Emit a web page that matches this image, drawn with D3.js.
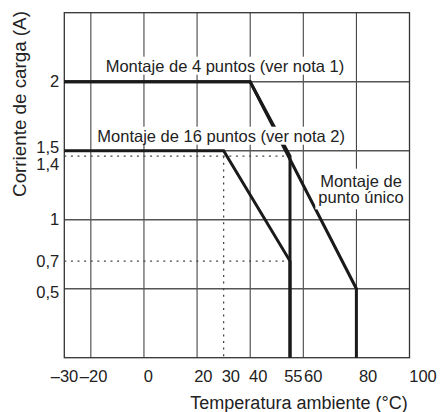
<!DOCTYPE html>
<html>
<head>
<meta charset="utf-8">
<script src="https://cdn.jsdelivr.net/npm/d3@7/dist/d3.min.js"></script>
<style>
  html, body { margin: 0; padding: 0; background: #fff; }
  svg { display: block; }
  text { font-family: "Liberation Sans", Arial, Helvetica, sans-serif; fill: #222; }
</style>
</head>
<body>
<svg id="chart" width="440" height="412"></svg>
<script>
// ---- data ----
const xDomain = [-30, 100];
const yDomain = [0, 2.5];
const xTickValues = [-30, -20, 0, 20, 30, 40, 55, 60, 80, 100];
const xGridValues = [-20, 0, 20, 40, 60, 80];
const yTickValues = [0.5, 0.7, 1, 1.4, 1.5, 2];
const yTickLabels = ["0,5", "0,7", "1", "1,4", "1,5", "2"];
const yGridValues = [0.5, 1, 1.5, 2];

// Montaje de 4 puntos (ver nota 1)
const fourPointTemp = [-30, 40, 55, 55];
const fourPointCurrent = [2, 2, 1.46, 0];
// Montaje de 16 puntos (ver nota 2)
const sixteenPointTemp = [-30, 30, 55, 55];
const sixteenPointCurrent = [1.5, 1.5, 0.7, 0];
// Montaje de punto único
const singlePointTemp = [-30, 40, 80, 80];
const singlePointCurrent = [2, 2, 0.5, 0];

const labelFour = "Montaje de 4 puntos (ver nota 1)";
const labelSixteen = "Montaje de 16 puntos (ver nota 2)";
const labelSingle = ["Montaje de", "punto único"];
const xTitle = "Temperatura ambiente (°C)";
const yTitle = "Corriente de carga (A)";

// ---- layout ----
const svg = d3.select("#chart");
const pLeft = 64.3, pRight = 409.5, pTop = 12.7, pBottom = 357.7;
const x = d3.scaleLinear().domain(xDomain).range([pLeft, pRight]);
const y = d3.scaleLinear().domain(yDomain).range([pBottom, pTop]);
// tick labels in the reference sit slightly right of their grid lines
const xLabel = d3.scaleLinear().domain(xDomain).range([65.6, 422.5]);

const FS = 16.5;

// grid
const grid = svg.append("g");
grid.selectAll("line.v").data(xGridValues).join("line")
  .attr("x1", d => x(d)).attr("x2", d => x(d))
  .attr("y1", pTop).attr("y2", pBottom)
  .attr("stroke", "#333").attr("stroke-width", 1);
grid.selectAll("line.h").data(yGridValues).join("line")
  .attr("x1", pLeft).attr("x2", pRight)
  .attr("y1", d => y(d)).attr("y2", d => y(d))
  .attr("stroke", "#555").attr("stroke-width", 1.4);
// frame
grid.append("rect")
  .attr("x", pLeft).attr("y", pTop)
  .attr("width", pRight - pLeft).attr("height", pBottom - pTop)
  .attr("fill", "none").attr("stroke", "#333").attr("stroke-width", 1.3);

// dotted reference lines (from series knee points)
const kneeI = fourPointCurrent[2];
const kneeT = fourPointTemp[2];
const dotted = [
  [[xDomain[0], kneeI], [kneeT, kneeI]],
  [[sixteenPointTemp[1], kneeI], [sixteenPointTemp[1], 0]],
  [[xDomain[0], sixteenPointCurrent[2]], [sixteenPointTemp[2], sixteenPointCurrent[2]]]
];
const line = d3.line().x(d => x(d[0])).y(d => y(d[1]));
svg.append("g").selectAll("path").data(dotted).join("path")
  .attr("d", line)
  .attr("fill", "none").attr("stroke", "#444")
  .attr("stroke-width", 1.3).attr("stroke-dasharray", "2,4.6");

// series
const series = [
  d3.zip(singlePointTemp, singlePointCurrent),
  d3.zip(fourPointTemp, fourPointCurrent),
  d3.zip(sixteenPointTemp, sixteenPointCurrent)
];
svg.append("g").selectAll("path").data(series).join("path")
  .attr("d", line)
  .attr("fill", "none").attr("stroke", "#1a1a1a")
  .attr("stroke-width", 3).attr("stroke-linejoin", "miter");

// axes
const fmtX = d => d < 0 ? "\u2013" + Math.abs(d) : String(d);
const gx = svg.append("g").attr("transform", `translate(0,${pBottom})`)
  .call(d3.axisBottom(xLabel).tickValues(xTickValues).tickSize(0).tickPadding(12.6).tickFormat(fmtX));
gx.select(".domain").remove();
gx.selectAll("text").attr("font-size", FS).attr("font-family", null).style("fill", "#222");
// nudge crowded labels left so neighbours do not touch
{
  const texts = gx.selectAll("text").nodes();
  for (let i = texts.length - 2; i >= 0; i--) {
    const a = texts[i].getBoundingClientRect();
    const b = texts[i + 1].getBoundingClientRect();
    const overlap = a.right + 1.5 - b.left;
    if (overlap > 0) {
      const cur = +texts[i].getAttribute("x") || 0;
      texts[i].setAttribute("x", cur - overlap);
    }
  }
}

const gy = svg.append("g").attr("transform", `translate(${pLeft},0)`)
  .call(d3.axisLeft(y).tickValues(yTickValues).tickSize(0).tickPadding(5)
    .tickFormat((d, i) => yTickLabels[i]));
gy.select(".domain").remove();
gy.selectAll("text").attr("font-size", FS).attr("font-family", null).style("fill", "#222")
  .attr("dy", d => d === 1.5 ? "0.1em" : (d === 0.5 ? "0.55em" : "0.32em"));

// titles
svg.append("text")
  .attr("x", 299).attr("y", 409)
  .attr("text-anchor", "middle").attr("font-size", 18)
  .text(xTitle);
svg.append("text")
  .attr("transform", "translate(25.5,104) rotate(-90)")
  .attr("text-anchor", "middle").attr("font-size", 18.8)
  .text(yTitle);

// series labels with white background
function boxed(g, pad) {
  const bb = g.node().getBBox();
  g.insert("rect", ":first-child")
    .attr("x", bb.x - pad).attr("y", bb.y - pad)
    .attr("width", bb.width + 2 * pad).attr("height", bb.height + 2 * pad)
    .attr("fill", "#fff");
}
const g4 = svg.append("g");
g4.append("text").attr("x", 105.7).attr("y", 71.7).attr("font-size", FS).text(labelFour);
boxed(g4, 0);
const g16 = svg.append("g");
g16.append("text").attr("x", 97.3).attr("y", 141.7).attr("font-size", FS).text(labelSixteen);
boxed(g16, 0);
const g1 = svg.append("g");
const t1 = g1.append("text").attr("font-size", FS).attr("text-anchor", "middle");
t1.selectAll("tspan").data(labelSingle).join("tspan")
  .attr("x", 361).attr("y", (d, i) => 186.7 + i * 16.6).text(d => d);
boxed(g1, 3);
</script>
</body>
</html>
